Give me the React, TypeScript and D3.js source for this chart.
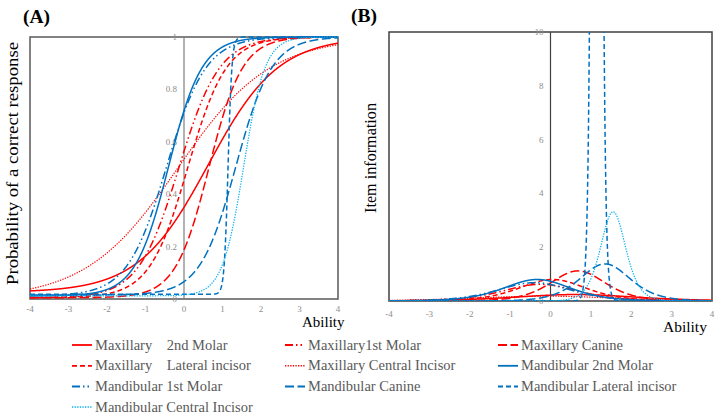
import React from 'react';
import * as d3 from 'd3';

// ---- data ----
const itemNames = [
  'Maxillary    2nd Molar',
  'Maxillary1st Molar',
  'Maxillary Canine',
  'Maxillary    Lateral incisor',
  'Maxillary Central Incisor',
  'Mandibular 2nd Molar',
  'Mandibular 1st Molar',
  'Mandibular Canine',
  'Mandibular Lateral incisor',
  'Mandibular Central Incisor',
];
// item characteristic curve parameters
const discrimination = [1.1, 1.9, 2.3, 2.0, 0.84, 2.3, 1.96, 2.15, 20, 3.6];
const difficulty = [0.63, -0.13, 0.65, 0.1, -0.16, -0.4, -0.45, 1.35, 1.145, 1.55];
const guessing = [0.025, 0.005, 0.005, 0.005, 0, 0.012, 0.012, 0.015, 0.018, 0.012];
// item information curves
const infoPeak = [0.24, 0.62, 1.12, 0.8, 0.18, 0.8, 0.68, 1.38, 100, 3.32];
const infoCenter = [0.62, -0.25, 0.68, 0.05, -0.16, -0.33, -0.4, 1.35, 1.145, 1.55];
const infoSteepness = [1.0, 1.6, 2.2, 1.8, 0.85, 1.8, 1.65, 2.4, 20, 4.8];

const abilityTicks = [-4, -3, -2, -1, 0, 1, 2, 3, 4];
const probTicks = [0, 0.2, 0.4, 0.6, 0.8, 1];
const infoTicks = [0, 2, 4, 6, 8, 10];

// ---- styles ----
const RED = '#FF0000';
const BLUE = '#0070C0';
const LBLUE = '#00B0F0';
const seriesColor = [RED, RED, RED, RED, RED, BLUE, BLUE, BLUE, BLUE, LBLUE];
const seriesDash = [
  'none', '8,3,1.5,3,1.5,3', '9,3.5', '5,3', '1.3,1.3',
  'none', '8,3,1.5,3,1.5,3', '9,3.5', '5,3', '1.3,1.3',
];
const seriesWidth = [1.5, 1.5, 1.5, 1.5, 1.2, 1.5, 1.5, 1.5, 1.5, 1.2];

const SERIF = "'Liberation Serif', 'Times New Roman', serif";
const TICK_COLOR = '#8c8c8c';

const thetaGrid = d3.range(-4, 4.00001, 0.004);
const sigmoid = (z: number) => 1 / (1 + Math.exp(-z));

export default function App() {
  // panel A
  const xA = d3.scaleLinear().domain([-4, 4]).range([30, 338]);
  const yA = d3.scaleLinear().domain([0, 1]).range([299, 37]);
  // panel B
  const xB = d3.scaleLinear().domain([-4, 4]).range([389, 712]);
  const yB = d3.scaleLinear().domain([0, 10]).range([301, 32]);

  const iccLine = d3.line<number>().x((t) => xA(t));
  const infoLine = d3.line<number>().x((t) => xB(t));

  const iccPaths = itemNames.map((_, i) =>
    iccLine.y((t) => {
      const c = guessing[i];
      return yA(c + (1 - c) * sigmoid(discrimination[i] * (t - difficulty[i])));
    })(thetaGrid)
  );
  const infoPaths = itemNames.map((_, i) =>
    infoLine.y((t) => {
      const p = sigmoid(infoSteepness[i] * (t - infoCenter[i]));
      return yB(Math.min(infoPeak[i] * 4 * p * (1 - p), 12));
    })(thetaGrid)
  );

  const legendCols = [72, 285, 498];
  const legendRows = [349.5, 370.3, 391, 411.6];

  return (
    <svg
      width={720}
      height={419}
      style={{ position: 'absolute', left: 0, top: 0, background: '#fff' }}
      fontFamily={SERIF}
    >
      <defs>
        <clipPath id="clipA">
          <rect x={xA(-4)} y={35} width={xA(4) - xA(-4)} height={yA(0) - 35 + 1} />
        </clipPath>
        <clipPath id="clipB">
          <rect x={xB(-4)} y={yB(10)} width={xB(4) - xB(-4)} height={yB(0) - yB(10)} />
        </clipPath>
      </defs>
      <rect x={0} y={0} width={720} height={419} fill="#fff" />

      {/* Titles */}
      <text x={23} y={23} fontSize={19.5} fontWeight="bold" fill="#000">(A)</text>
      <text x={351} y={22} fontSize={19.5} fontWeight="bold" fill="#000">(B)</text>

      {/* ---- Panel A ---- */}
      <rect x={xA(-4)} y={yA(1)} width={xA(4) - xA(-4)} height={yA(0) - yA(1)} fill="none" stroke="#595959" strokeWidth={1.5} />
      <line x1={xA(0)} x2={xA(0)} y1={yA(0)} y2={yA(1)} stroke="#7f7f7f" strokeWidth={1.2} />
      {probTicks.map((v) => (
        <text key={'pa' + v} x={xA(0) - 7} y={yA(v) + 3} fontSize={9} fill={TICK_COLOR} textAnchor="end">
          {String(v)}
        </text>
      ))}
      {abilityTicks.map((v) => (
        <text key={'ta' + v} x={xA(v)} y={311.5} fontSize={9} fill={TICK_COLOR} textAnchor="middle">
          {String(v)}
        </text>
      ))}
      <g clipPath="url(#clipA)">
        {iccPaths.map((d, i) => (
          <path
            key={'icc' + i}
            d={d || ''}
            fill="none"
            stroke={seriesColor[i]}
            strokeWidth={seriesWidth[i]}
            strokeDasharray={seriesDash[i]}
          />
        ))}
      </g>
      <text
        transform="translate(18,163.5) rotate(-90)"
        fontSize={16}
        textAnchor="middle"
        fill="#000"
        textLength={243}
        lengthAdjust="spacingAndGlyphs"
      >
        Probability of a correct response
      </text>
      <text x={302} y={326.5} fontSize={15} fill="#000">Ability</text>

      {/* ---- Panel B ---- */}
      <rect x={xB(-4)} y={yB(10)} width={xB(4) - xB(-4)} height={yB(0) - yB(10)} fill="none" stroke="#404040" strokeWidth={1.5} />
      <line x1={xB(0)} x2={xB(0)} y1={yB(0)} y2={yB(10)} stroke="#404040" strokeWidth={1.2} />
      {infoTicks.map((v) => (
        <text key={'pb' + v} x={xB(0) - 7} y={yB(v) + 3} fontSize={9} fill={TICK_COLOR} textAnchor="end">
          {String(v)}
        </text>
      ))}
      {abilityTicks.map((v) => (
        <text key={'tb' + v} x={xB(v)} y={317} fontSize={9} fill={TICK_COLOR} textAnchor="middle">
          {String(v)}
        </text>
      ))}
      <g clipPath="url(#clipB)">
        {infoPaths.map((d, i) => (
          <path
            key={'inf' + i}
            d={d || ''}
            fill="none"
            stroke={seriesColor[i]}
            strokeWidth={seriesWidth[i]}
            strokeDasharray={seriesDash[i]}
          />
        ))}
      </g>
      <text
        transform="translate(376,158) rotate(-90)"
        fontSize={16}
        textAnchor="middle"
        fill="#000"
        textLength={110}
        lengthAdjust="spacingAndGlyphs"
      >
        Item information
      </text>
      <text x={663} y={332} fontSize={15.5} fill="#000">Ability</text>

      {/* ---- Legend ---- */}
      {itemNames.map((name, i) => {
        const col = i % 3;
        const row = Math.floor(i / 3);
        const x0 = legendCols[col];
        const y0 = legendRows[row];
        return (
          <g key={'lg' + i}>
            <line
              x1={x0}
              x2={x0 + 20}
              y1={y0 - 4.5}
              y2={y0 - 4.5}
              stroke={seriesColor[i]}
              strokeWidth={seriesWidth[i] + 0.3}
              strokeDasharray={seriesDash[i]}
            />
            <text x={x0 + 23} y={y0} fontSize={14.5} fill="#595959" style={{ whiteSpace: 'pre' }}>
              {name}
            </text>
          </g>
        );
      })}
    </svg>
  );
}
